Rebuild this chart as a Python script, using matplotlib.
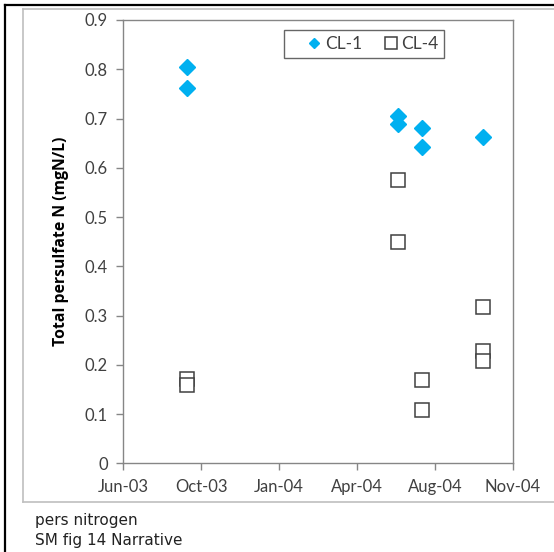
import datetime as dt

import matplotlib
matplotlib.use("Agg")
import matplotlib.pyplot as plt
import matplotlib.dates as mdates
from matplotlib.lines import Line2D

# sampling dates and values
cl1_dates = ["2003-09-18", "2003-09-18", "2004-06-14", "2004-06-14",
             "2004-07-15", "2004-07-15", "2004-10-01"]
cl1_vals = [0.804, 0.762, 0.705, 0.688, 0.681, 0.642, 0.662]

cl4_dates = ["2003-09-18", "2003-09-18", "2004-06-14", "2004-06-14",
             "2004-07-15", "2004-07-15", "2004-10-01", "2004-10-01",
             "2004-10-01"]
cl4_vals = [0.172, 0.158, 0.575, 0.450, 0.169, 0.108, 0.317, 0.228, 0.207]

# excel style date axis: 37800 .. 38300 step 100
x_ticks = ["2003-06-28", "2003-10-06", "2004-01-14", "2004-04-23",
           "2004-08-01", "2004-11-09"]
y_ticks = [0, 0.1, 0.2, 0.3, 0.4, 0.5, 0.6, 0.7, 0.8, 0.9]


def to_dt(lst):
    return [dt.datetime.strptime(s, "%Y-%m-%d") for s in lst]


W, H = 554, 552
fig = plt.figure(figsize=(W / 100, H / 100), dpi=100)

# outer frames
fig.add_artist(Line2D([5 / W, 1], [1 - 5 / H, 1 - 5 / H], color="black", lw=1.6))
fig.add_artist(Line2D([5 / W, 5 / W], [0, 1 - 5 / H], color="black", lw=1.6))
gray = "#bfbfbf"
fig.add_artist(Line2D([23 / W, 1], [1 - 9 / H, 1 - 9 / H], color=gray, lw=1.2))
fig.add_artist(Line2D([23 / W, 1], [1 - 502 / H, 1 - 502 / H], color=gray, lw=1.2))
fig.add_artist(Line2D([23 / W, 23 / W], [1 - 502 / H, 1 - 9 / H], color=gray, lw=1.2))

ax = fig.add_axes([123 / W, 1 - 463.3 / H, (513 - 123) / W, (463.3 - 20) / H])

blue = "#00b0f0"
edge = "#404040"
ax.plot(to_dt(cl1_dates), cl1_vals, ls="none", marker="D", ms=8.2,
        color=blue, mec=blue)
ax.plot(to_dt(cl4_dates), cl4_vals, ls="none", marker="s", ms=10.5,
        mfc="white", mec=edge, mew=1.1)

xt = to_dt(x_ticks)
ax.set_xlim(xt[0], xt[-1])
ax.set_xticks(xt)
ax.xaxis.set_major_formatter(mdates.DateFormatter("%b-%y"))
ax.set_ylim(0, 0.9)
ax.set_yticks(y_ticks)
ax.set_yticklabels([f"{v:g}" for v in y_ticks])

for s in ax.spines.values():
    s.set_color("#868686")
    s.set_linewidth(1.0)
ax.tick_params(direction="out", length=5, width=1.0, color="#868686",
               labelcolor="#404040", labelsize=12, pad=6)
for lbl in ax.get_xticklabels() + ax.get_yticklabels():
    lbl.set_family("Lato")

ax.set_ylabel("Total persulfate N (mgN/L)", fontsize=11.3, fontweight="bold",
              family="Open Sans", labelpad=11)

handles = [
    Line2D([], [], ls="none", marker="D", ms=5.5, color=blue, mec=blue),
    Line2D([], [], ls="none", marker="s", ms=8, mfc="white", mec=edge, mew=1.1),
]
leg = ax.legend(handles, ["CL-1", "CL-4"], loc="upper left",
                bbox_to_anchor=((284 - 123) / 390, 1 - 10 / 443), ncol=2,
                borderaxespad=0, frameon=True, fancybox=False,
                handletextpad=-0.8, columnspacing=0.25, borderpad=0.35,
                handlelength=2.8, prop={"family": "Lato", "size": 12.5})
leg.get_frame().set_edgecolor(edge)
leg.get_frame().set_linewidth(1.0)
for t in leg.get_texts():
    t.set_color(edge)

fig.text(35 / W, 1 - 520 / H, "pers nitrogen", fontsize=11, va="center",
         color="#222222")
fig.text(35 / W, 1 - 540 / H, "SM fig 14 Narrative", fontsize=11, va="center",
         color="#222222")

fig.savefig("out.png", dpi=100)
